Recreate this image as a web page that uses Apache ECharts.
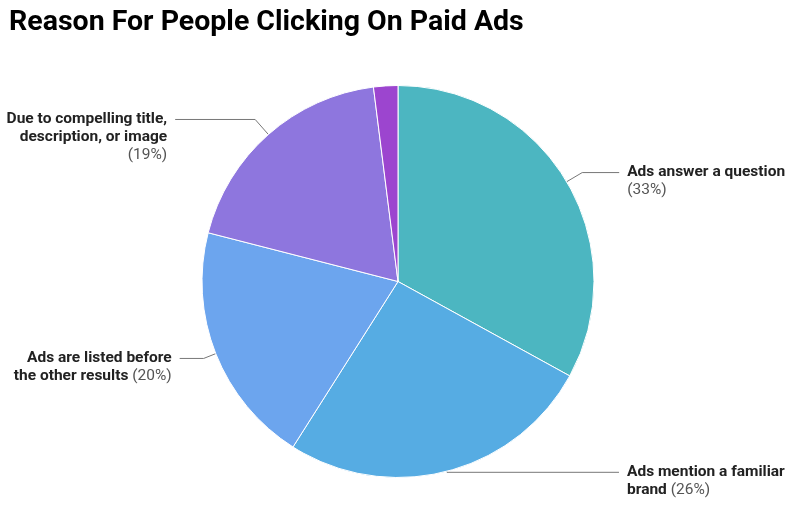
<!DOCTYPE html>
<html>
<head>
<meta charset="utf-8">
<script src="https://cdn.jsdelivr.net/npm/echarts@6/dist/echarts.min.js"></script>
<style>html,body{margin:0;padding:0;background:#fff}#c{width:800px;height:514px}</style>
</head>
<body>
<div id="c"></div>
<script>
const titleText = 'Reason For People Clicking On Paid Ads';
const categories = ['Ads answer a question', 'Ads mention a familiar brand', 'Ads are listed before the other results', 'Due to compelling title, description, or image', 'Other'];
const values = [33, 26, 20, 19, 2];
const labelLines = [
  ['Ads answer a question', ''],
  ['Ads mention a familiar', 'brand '],
  ['Ads are listed before', 'the other results '],
  ['Due to compelling title,', 'description, or image', '']
];
const colors = ['#4CB6C1', '#56ACE3', '#6CA5EE', '#8E76DE', '#9C45CF'];
const lineLen = [[18, 37], [1, 172], [13, 24], [20, 80]];

const LH = 18;
const data = values.map((v, i) => {
  const item = { name: categories[i], value: v, itemStyle: { color: colors[i] } };
  if (i < labelLines.length) {
    const lines = labelLines[i];
    const txt = lines.map((l, k) => {
      if (k === lines.length - 1) {
        return (l ? '{b|' + l + '}' : '') + '{p|(' + v + '%)}';
      }
      return '{b|' + l + '}';
    }).join('\n');
    item.label = { show: true, formatter: txt, padding: [(lines.length - 1) * LH, 0, 0, 0] };
    item.labelLine = { show: true, length: lineLen[i][0], length2: lineLen[i][1] };
  } else {
    item.label = { show: false };
    item.labelLine = { show: false };
  }
  return item;
});

const chart = echarts.init(document.getElementById('c'), null, { renderer: 'canvas' });
chart.setOption({
  animation: false,
  title: {
    text: titleText, left: 4, top: 3,
    textStyle: { fontFamily: 'Roboto', fontWeight: 'bold', fontSize: 28.5, color: '#000' }
  },
  series: [{
    type: 'pie',
    center: [398, 281.5],
    radius: [0, 196],
    startAngle: 90,
    clockwise: true,
    avoidLabelOverlap: false,
    itemStyle: { borderColor: '#fff', borderWidth: 1 },
    label: {
      position: 'outside',
      distanceToLabelLine: 8,
      fontFamily: 'Roboto',
      lineHeight: LH,
      rich: {
        b: { fontFamily: 'Roboto', fontWeight: 'bold', fontSize: 15.5, color: '#222', lineHeight: LH },
        p: { fontFamily: 'Roboto', fontWeight: 'normal', fontSize: 15.5, color: '#555', lineHeight: LH }
      }
    },
    labelLine: { lineStyle: { color: '#777', width: 1 }, smooth: false },
    emphasis: { disabled: true },
    data: data
  }]
});
</script>
</body>
</html>
